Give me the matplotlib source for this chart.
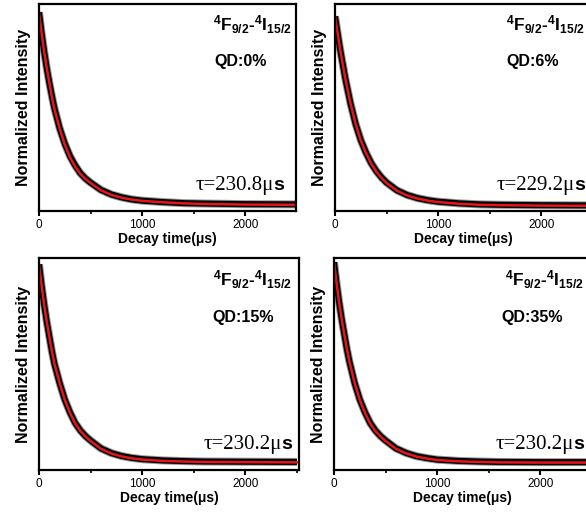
import matplotlib
matplotlib.use("Agg")
import matplotlib.pyplot as plt
import matplotlib.patheffects as pe
from matplotlib.ticker import MultipleLocator

plt.rcParams['font.family'] = ['Liberation Sans', 'DejaVu Sans']
plt.rcParams['mathtext.fontset'] = 'custom'
plt.rcParams['mathtext.rm'] = 'Liberation Serif'
plt.rcParams['mathtext.bf'] = 'Liberation Sans:bold'
plt.rcParams['mathtext.sf'] = 'Liberation Sans:bold'

# decay time grid (us)
t_us = [0, 25, 50, 75, 100, 125, 150, 200, 250, 300, 350, 400, 450, 500,
        600, 700, 800, 900, 1000, 1200, 1400, 1600, 2000, 2500]

# measured normalized intensity for each QD content
decay_0 = [0.96, 0.86, 0.77, 0.69, 0.62, 0.555, 0.495, 0.40, 0.325, 0.265, 0.22, 0.183, 0.157, 0.137,
           0.102, 0.080, 0.066, 0.056, 0.050, 0.043, 0.038, 0.036, 0.033, 0.032]
decay_6 = [0.94, 0.86, 0.78, 0.71, 0.64, 0.58, 0.52, 0.42, 0.342, 0.282, 0.232, 0.193, 0.162, 0.137,
           0.100, 0.077, 0.062, 0.052, 0.045, 0.037, 0.032, 0.030, 0.028, 0.027]
decay_15 = [0.97, 0.87, 0.78, 0.70, 0.63, 0.56, 0.50, 0.41, 0.332, 0.272, 0.222, 0.187, 0.160, 0.139,
            0.102, 0.080, 0.066, 0.057, 0.051, 0.045, 0.042, 0.040, 0.039, 0.038]
decay_35 = [0.98, 0.88, 0.79, 0.71, 0.64, 0.57, 0.51, 0.41, 0.332, 0.272, 0.222, 0.187, 0.160, 0.139,
            0.102, 0.080, 0.065, 0.056, 0.049, 0.043, 0.040, 0.038, 0.037, 0.037]

# single exponential fits
fit_0 = [0.96, 0.86, 0.77, 0.69, 0.62, 0.55, 0.49, 0.40, 0.32, 0.26, 0.215, 0.18, 0.155, 0.135,
         0.100, 0.078, 0.064, 0.055, 0.049, 0.042, 0.037, 0.034, 0.031, 0.030]
fit_6 = [0.94, 0.86, 0.78, 0.71, 0.64, 0.58, 0.52, 0.42, 0.34, 0.28, 0.23, 0.19, 0.16, 0.135,
         0.098, 0.075, 0.060, 0.050, 0.043, 0.035, 0.030, 0.028, 0.026, 0.025]
fit_15 = [0.97, 0.87, 0.78, 0.70, 0.63, 0.56, 0.50, 0.41, 0.33, 0.27, 0.22, 0.185, 0.158, 0.137,
          0.100, 0.078, 0.064, 0.055, 0.049, 0.043, 0.040, 0.038, 0.037, 0.036]
fit_35 = [0.98, 0.88, 0.79, 0.71, 0.64, 0.57, 0.51, 0.41, 0.33, 0.27, 0.22, 0.185, 0.158, 0.137,
          0.100, 0.078, 0.063, 0.054, 0.047, 0.041, 0.038, 0.036, 0.035, 0.035]

qd_labels = ['QD:0%', 'QD:6%', 'QD:15%', 'QD:35%']
tau_labels = ['230.8', '229.2', '230.2', '230.2']
transition = r'$\mathbf{{}^4F_{9/2}}$-$\mathbf{{}^4I_{15/2}}$'

W, H = 586, 516
fig = plt.figure(figsize=(W / 100, H / 100), dpi=100)

# axes boxes in pixels: left, top, width, height
boxes = [(39, 4, 257, 207), (335, 4, 257, 207),
         (39, 258, 260, 212), (334, 258, 257, 212)]
xmax = [2490, 2490, 2520, 2490]
text_pos = [  # (transition x, y), (QD x, y), (tau right x, baseline y) in axes fraction
    ((0.83, 0.87), (0.785, 0.72), (0.955, 0.10)),
    ((0.82, 0.87), (0.77, 0.72), (0.975, 0.10)),
    ((0.82, 0.87), (0.785, 0.72), (0.975, 0.10)),
    ((0.82, 0.87), (0.77, 0.72), (0.975, 0.10)),
]

decays = [decay_0, decay_6, decay_15, decay_35]
fits = [fit_0, fit_6, fit_15, fit_35]

for i in range(4):
    l, t, w, h = boxes[i]
    ax = fig.add_axes([l / W, 1 - (t + h) / H, w / W, h / H])

    # measured data as a thick dark band, fit on top
    ax.plot(t_us, decays[i], color='black', lw=4.4, solid_capstyle='butt',
            path_effects=[pe.Stroke(linewidth=5.8, foreground='#9a9a9a'), pe.Normal()])
    ax.plot(t_us, fits[i], color='#e8141c', lw=1.8)

    ax.set_xlim(0, xmax[i])
    ax.set_ylim(0, 1)
    ax.set_yticks([])
    ax.xaxis.set_major_locator(MultipleLocator(1000))
    ax.xaxis.set_minor_locator(MultipleLocator(500))
    ax.tick_params(axis='x', which='major', direction='out', length=3.5, width=1.5,
                   labelsize=8.5, pad=2)
    ax.tick_params(axis='x', which='minor', direction='out', length=2, width=1.2)
    for s in ax.spines.values():
        s.set_linewidth(1.6)

    ax.set_xlabel('Decay time(\u03bcs)', fontsize=10, fontweight='bold', labelpad=1)
    ax.set_ylabel('Normalized Intensity', fontsize=11.5, fontweight='bold', labelpad=6)

    (tx, ty), (qx, qy), (rx, ry) = text_pos[i]
    ax.text(tx, ty, transition, transform=ax.transAxes, ha='center', va='baseline',
            fontsize=12.5, fontweight='bold')
    ax.text(qx, qy, qd_labels[i], transform=ax.transAxes, ha='center', va='center',
            fontsize=11.5, fontweight='bold')

    # lifetime: serif "tau=...mu" followed by a bold sans "s" on the same baseline
    unit = ax.text(rx, ry, 's', transform=ax.transAxes, ha='right', va='baseline',
                   fontsize=14, fontweight='bold')
    ax.annotate('\u03c4=' + tau_labels[i] + '\u03bc', xy=(0, ry),
                xycoords=(unit, 'axes fraction'),
                ha='right', va='baseline', fontsize=15, family='Liberation Serif')

fig.savefig('out.png', dpi=100)
